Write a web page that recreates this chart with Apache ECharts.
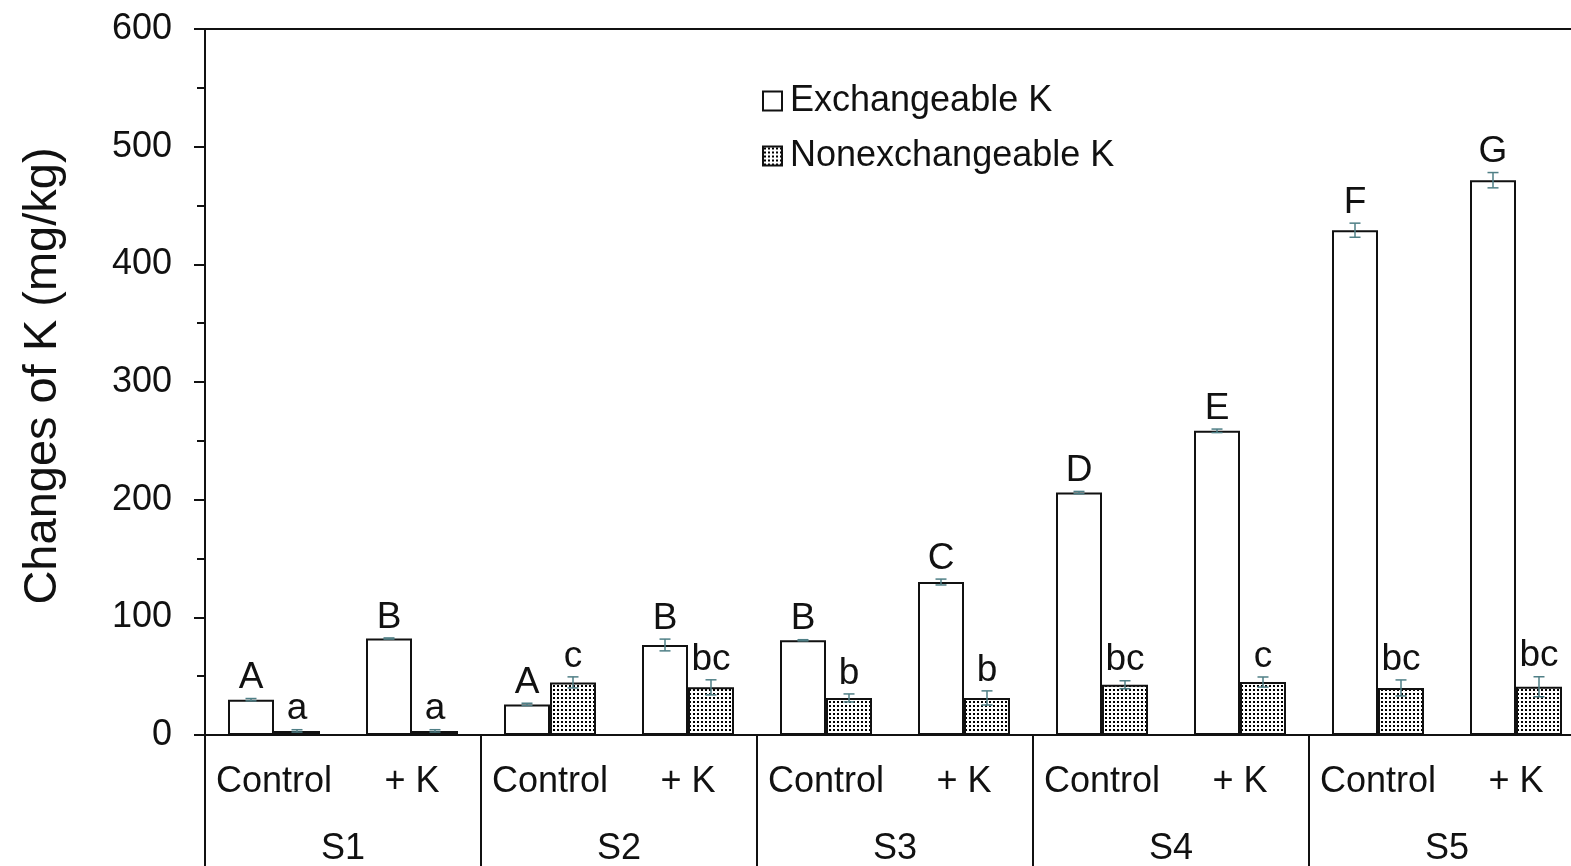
<!DOCTYPE html>
<html>
<head>
<meta charset="utf-8">
<script src="https://cdn.jsdelivr.net/npm/echarts@6/dist/echarts.min.js"></script>
<style>
  html, body { margin: 0; padding: 0; background: #fff; }
  #chart { width: 1571px; height: 866px; }
</style>
</head>
<body>
<div id="chart"></div>
<script>
const treatments = ['Control', '+ K', 'Control', '+ K', 'Control', '+ K', 'Control', '+ K', 'Control', '+ K'];
const soils = ['S1', 'S2', 'S3', 'S4', 'S5'];
const yTicks = [0, 100, 200, 300, 400, 500, 600];

const exchangeable = [30, 82, 26, 76.5, 80.5, 130, 206, 258.5, 429, 471.5];
const exchangeableErr = [1, 0.5, 1, 5, 0.5, 2.5, 1, 1.5, 6, 6.5];
const exchangeableLetters = ['A', 'B', 'A', 'B', 'B', 'C', 'D', 'E', 'F', 'G'];

const nonexchangeable = [3.5, 3.5, 44.7, 40.5, 31.5, 31.5, 42.7, 45, 40, 41];
const nonexchangeableErr = [1, 1, 4.7, 6.4, 3.4, 6, 3.4, 4.3, 6.8, 8.5];
const nonexchangeableLetters = ['a', 'a', 'c', 'bc', 'b', 'b', 'bc', 'c', 'bc', 'bc'];

const FONT = 'Liberation Sans';
const INK = '#111';
const ERR = '#4f7f86';
const BAR_W = 46;

// dotted fill like the excel pattern
const dots = document.createElement('canvas');
dots.width = 4; dots.height = 4;
const dctx = dots.getContext('2d');
dctx.fillStyle = '#fff';
dctx.fillRect(0, 0, 4, 4);
dctx.fillStyle = '#000';
dctx.fillRect(1, 1, 2, 2);

function errorSeries(values, errs, letters, shift) {
  return {
    type: 'custom',
    z: 5,
    silent: true,
    clip: false,
    data: values.map((v, i) => [i, v, errs[i]]),
    renderItem: function (params, api) {
      const i = api.value(0), v = api.value(1), e = api.value(2);
      const x = api.coord([i, v])[0] + shift;
      const yHi = api.coord([i, v + e])[1];
      const yLo = api.coord([i, v - e])[1];
      const ls = { stroke: ERR, lineWidth: 1.5 };
      return {
        type: 'group',
        children: [
          { type: 'line', shape: { x1: x, y1: yHi, x2: x, y2: yLo }, style: ls },
          { type: 'line', shape: { x1: x - 5.5, y1: yHi, x2: x + 5.5, y2: yHi }, style: ls },
          { type: 'line', shape: { x1: x - 5.5, y1: yLo, x2: x + 5.5, y2: yLo }, style: ls },
          {
            type: 'text',
            style: {
              text: letters[params.dataIndex], x: x, y: yHi - 2,
              align: 'center', verticalAlign: 'bottom',
              fontSize: 37, fontFamily: FONT, fill: INK
            }
          }
        ]
      };
    }
  };
}

const chart = echarts.init(document.getElementById('chart'));
chart.setOption({
  animation: false,
  backgroundColor: '#fff',
  textStyle: { fontFamily: FONT, color: INK },
  grid: {
    left: 205, top: 29, width: 1380, height: 706,
    outerBoundsMode: 'none',
    show: true, borderColor: INK, borderWidth: 2, backgroundColor: 'transparent'
  },
  legend: {
    orient: 'vertical',
    left: 762, top: 83,
    padding: 0,
    itemWidth: 19, itemHeight: 19, itemGap: 19,
    icon: 'rect',
    textStyle: { fontSize: 36, fontFamily: FONT, color: INK, padding: [0, 0, 0, 3] },
    data: ['Exchangeable K', 'Nonexchangeable K']
  },
  xAxis: [
    {
      type: 'category',
      data: treatments,
      axisLine: { lineStyle: { color: INK, width: 2 } },
      axisTick: { show: false },
      axisLabel: { fontSize: 36, color: INK, margin: 29, interval: 0 }
    },
    {
      type: 'category',
      data: soils,
      position: 'bottom',
      offset: 0,
      axisLine: { show: false },
      axisTick: { show: true, length: 140, lineStyle: { color: INK, width: 2 } },
      axisLabel: { fontSize: 36, color: INK, margin: 96 }
    }
  ],
  yAxis: {
    type: 'value',
    min: yTicks[0], max: yTicks[yTicks.length - 1], interval: 100,
    name: 'Changes of K (mg/kg)',
    nameLocation: 'middle',
    nameGap: 138,
    nameTextStyle: { fontSize: 47, color: INK, fontFamily: FONT, padding: [0, 0, 0, 12] },
    axisLine: { show: true, lineStyle: { color: INK, width: 2 } },
    axisTick: { show: true, length: 11, lineStyle: { color: INK, width: 2 } },
    minorTick: { show: true, splitNumber: 2, length: 8, lineStyle: { color: INK, width: 2 } },
    splitLine: { show: false },
    axisLabel: { fontSize: 36, color: INK, margin: 33 }
  },
  series: [
    {
      name: 'Exchangeable K',
      type: 'bar',
      barWidth: BAR_W,
      barGap: '0%',
      data: exchangeable,
      itemStyle: { color: '#fff', borderColor: INK, borderWidth: 2 }
    },
    {
      name: 'Nonexchangeable K',
      type: 'bar',
      barWidth: BAR_W,
      barGap: '0%',
      data: nonexchangeable,
      itemStyle: { color: { image: dots, repeat: 'repeat' }, borderColor: INK, borderWidth: 2 }
    },
    errorSeries(exchangeable, exchangeableErr, exchangeableLetters, -BAR_W / 2),
    errorSeries(nonexchangeable, nonexchangeableErr, nonexchangeableLetters, BAR_W / 2)
  ]
});
</script>
</body>
</html>
